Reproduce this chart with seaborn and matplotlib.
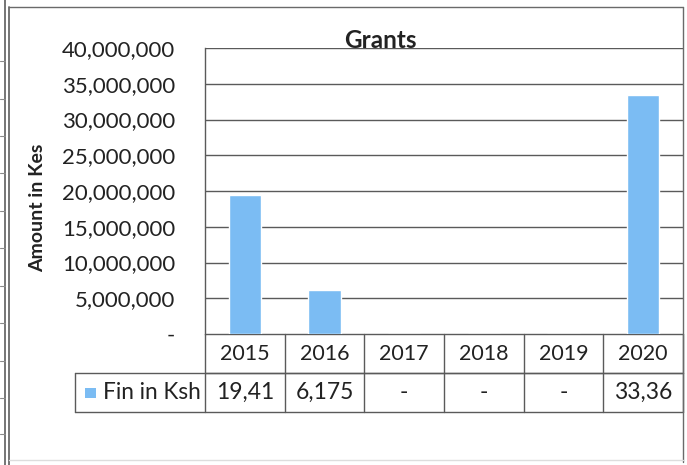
import numpy as np
import pandas as pd
import matplotlib
matplotlib.use("Agg")
import matplotlib.pyplot as plt
import matplotlib.transforms as mtransforms
from matplotlib.ticker import FuncFormatter, FixedLocator
from matplotlib.lines import Line2D
from matplotlib.patches import Rectangle
import seaborn as sns

# Grants received per year (Kenya shillings)
years = ["2015", "2016", "2017", "2018", "2019", "2020"]
grants = [19410000, 6175000, 0, 0, 0, 33360000]
series_name = "Fin in Ksh"
title = "Grants"
y_label = "Amount in Kes"
y_ticks = [0, 5000000, 10000000, 15000000, 20000000, 25000000, 30000000, 35000000, 40000000]

BAR = "#7bbcf3"
LINE = "#5a5a5a"
TEXT = "#222222"

sns.set_theme(style="white")
plt.rcParams["font.family"] = ["Lato", "DejaVu Sans"]

W, H = 687, 465
fig = plt.figure(figsize=(W / 100, H / 100), dpi=100)
fig.patch.set_facecolor("white")

# plot area in pixel coordinates
px_left, px_right, px_top, px_bottom = 205, 683, 48, 334
ax = fig.add_axes([px_left / W, 1 - px_bottom / H,
                   (px_right - px_left) / W, (px_bottom - px_top) / H])

df = pd.DataFrame({"year": years, "value": grants})
sns.barplot(data=df, x="year", y="value", order=years, color=BAR,
            saturation=1, width=0.41, ax=ax, zorder=3)

ax.set_xlim(-0.5, len(years) - 0.5)
ax.set_ylim(0, 40000000)
ax.yaxis.set_major_locator(FixedLocator(y_ticks))
ax.yaxis.set_major_formatter(FuncFormatter(lambda v, p: "-" if v == 0 else f"{v:,.0f}"))
ax.tick_params(axis="y", length=0, pad=21.5, labelsize=16, labelcolor=TEXT)
ax.set_xticks([])
ax.set_xlabel("")
ax.set_ylabel(y_label, fontsize=14, fontweight="bold", color=TEXT)
ax.yaxis.set_label_coords(-0.333, 0.44)

for v in y_ticks[1:]:
    ax.axhline(v, color=LINE, lw=1.0, zorder=1)
for side in ["top", "bottom", "right"]:
    ax.spines[side].set_visible(False)
ax.spines["left"].set_color(LINE)
ax.spines["left"].set_linewidth(1.0)

# title sitting on the top gridline
fig.text(380 / W, 1 - 40 / H, title, ha="center", va="center",
         fontsize=17.5, fontweight="bold", color=TEXT)

# data table below the plot area
trans = mtransforms.blended_transform_factory(ax.transData, ax.transAxes)
unit_px = (px_right - px_left) / len(years)
row_h = 39 / (px_bottom - px_top)
legend_left = -0.5 - (px_left - 75) / unit_px
x_edges = np.arange(len(years) + 1) - 0.5

def hline(x0, x1, y):
    ax.add_line(Line2D([x0, x1], [y, y], transform=trans, color=LINE, lw=1.0, clip_on=False))

def vline(x, y0, y1):
    ax.add_line(Line2D([x, x], [y0, y1], transform=trans, color=LINE, lw=1.0, clip_on=False))

hline(-0.5, len(years) - 0.5, 0)
hline(-0.5, len(years) - 0.5, -row_h)
hline(legend_left, len(years) - 0.5, -row_h)
hline(legend_left, len(years) - 0.5, -2 * row_h)
for xe in x_edges:
    vline(xe, 0, -2 * row_h)
vline(legend_left, -row_h, -2 * row_h)

for i, (yr, v) in enumerate(zip(years, grants)):
    ax.text(i, -row_h / 2, yr, transform=trans, ha="center", va="center",
            fontsize=15.5, color=TEXT, clip_on=False)
    cell = f"{v:,.0f}"[:5] if v else "-"
    ax.text(i, -1.5 * row_h, cell, transform=trans, ha="center", va="center",
            fontsize=16.5, color=TEXT, clip_on=False)

# legend key inside the table
fig.patches.append(Rectangle((85 / W, 1 - 398 / H), 11 / W, 10 / H,
                             transform=fig.transFigure, facecolor=BAR, edgecolor="none"))
fig.text(103 / W, 1 - 392 / H, series_name, ha="left", va="center",
         fontsize=16.3, color=TEXT)

# outer chart frame and sheet border
def fig_line(xs, ys, color="#6a6a6a", lw=1.0):
    fig.lines.append(Line2D([x / W for x in xs], [1 - y / H for y in ys],
                            transform=fig.transFigure, color=color, lw=lw))

fig_line([9, 683], [7, 7])
fig_line([9, 9], [7, 465], lw=1.3)
fig_line([5, 5], [0, 465], lw=1.3)
fig_line([683, 683], [7, 462])
fig_line([9, 683], [460, 460], color="#dddddd")
for yy in [61, 99, 136, 173, 211, 248, 286, 323, 361, 398, 434]:
    fig_line([0, 5], [yy, yy], color="#8a8a8a", lw=0.8)

fig.savefig("out.png", dpi=100, facecolor="white")
